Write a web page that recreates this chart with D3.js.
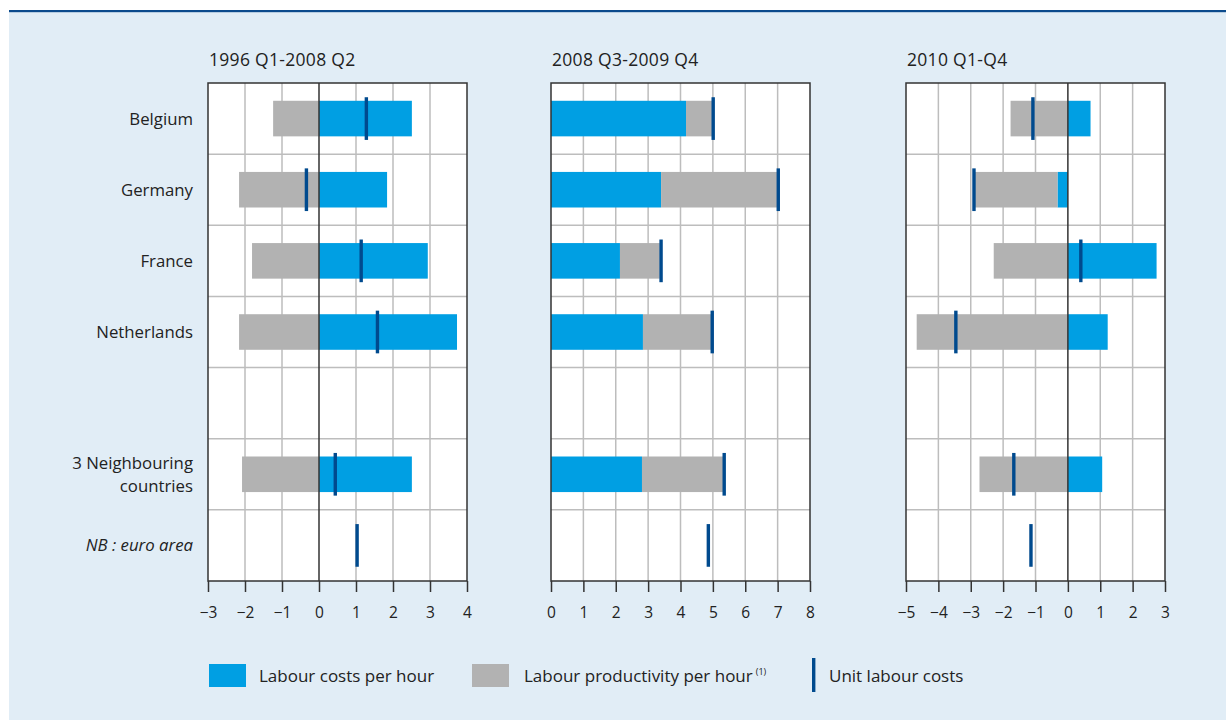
<!DOCTYPE html>
<html>
<head>
<meta charset="utf-8">
<script src="https://cdn.jsdelivr.net/npm/d3@7"></script>
<style>
  html, body { margin: 0; padding: 0; background: #ffffff; }
  svg { display: block; }
  text { font-family: "Open Sans", "Noto Sans", sans-serif; fill: #222; }
</style>
</head>
<body>
<svg id="chart" width="1226" height="720"></svg>
<script>
// ---- data ----
const categories = ["Belgium", "Germany", "France", "Netherlands", "", "3 Neighbouring countries", "NB : euro area"];
const periods = ["1996 Q1-2008 Q2", "2008 Q3-2009 Q4", "2010 Q1-Q4"];
const domains = [[-3, 4], [0, 8], [-5, 3]];

const labourCosts1  = [2.51, 1.84, 2.94, 3.73, null, 2.51, null];
const productivity1 = [-1.24, -2.16, -1.81, -2.16, null, -2.08, null];
const ulc1          = [1.28, -0.34, 1.14, 1.58, null, 0.44, 1.03];

const labourCosts2  = [4.17, 3.40, 2.13, 2.84, null, 2.81, null];
const productivity2 = [0.83, 3.59, 1.23, 2.13, null, 2.51, null];
const ulc2          = [5.01, 7.02, 3.40, 4.98, null, 5.35, 4.86];

const labourCosts3  = [0.70, -0.32, 2.74, 1.23, null, 1.06, null];
const productivity3 = [-1.77, -2.55, -2.29, -4.67, null, -2.73, null];
const ulc3          = [-1.08, -2.90, 0.40, -3.46, null, -1.67, -1.14];

const legendLabels = ["Labour costs per hour", "Labour productivity per hour", "Unit labour costs"];

const labourSeries = [labourCosts1, labourCosts2, labourCosts3];
const prodSeries = [productivity1, productivity2, productivity3];
const ulcSeries = [ulc1, ulc2, ulc3];

// ---- styles ----
const COL_BLUE = "#009fe3";
const COL_GRAY = "#b2b2b2";
const COL_ULC = "#004a8e";
const COL_GRID = "#bdbdbd";
const COL_AXIS = "#333333";

const svg = d3.select("#chart");

// background
svg.append("rect").attr("x", 9).attr("y", 11).attr("width", 1217).attr("height", 709).attr("fill", "#e1edf6");
svg.append("rect").attr("x", 9).attr("y", 10).attr("width", 1217).attr("height", 2.2).attr("fill", "#0b4a8c");

const panelX = [[208, 467], [551, 810], [906, 1165]];
const plotTop = 83, plotBottom = 581;

const y = d3.scaleBand().domain(d3.range(categories.length)).range([plotTop, plotBottom]).padding(0);
const bw = y.bandwidth();

periods.forEach((title, p) => {
  const x = d3.scaleLinear().domain(domains[p]).range(panelX[p]);
  const g = svg.append("g");

  // plot bg
  g.append("rect").attr("x", panelX[p][0]).attr("y", plotTop)
    .attr("width", panelX[p][1] - panelX[p][0]).attr("height", plotBottom - plotTop).attr("fill", "#fff");

  const ticks = d3.range(domains[p][0], domains[p][1] + 1);

  // vertical grid
  g.selectAll(".vg").data(ticks.filter(t => t !== domains[p][0] && t !== domains[p][1] && t !== 0))
    .join("line").attr("x1", d => x(d)).attr("x2", d => x(d)).attr("y1", plotTop).attr("y2", plotBottom)
    .attr("stroke", COL_GRID).attr("stroke-width", 1.5);

  // horizontal row separators
  g.selectAll(".hg").data(d3.range(1, categories.length))
    .join("line").attr("x1", panelX[p][0]).attr("x2", panelX[p][1])
    .attr("y1", d => y(d)).attr("y2", d => y(d))
    .attr("stroke", COL_GRID).attr("stroke-width", 1.5);

  // stacked diverging bars
  const table = categories.map((c, i) => ({ i, labour: labourSeries[p][i] || 0, prod: prodSeries[p][i] || 0 }));
  const stack = d3.stack().keys(["labour", "prod"]).offset(d3.stackOffsetDiverging);
  const layers = stack(table);
  const colors = { labour: COL_BLUE, prod: COL_GRAY };
  layers.forEach(layer => {
    g.selectAll(null).data(layer.filter(d => d[1] !== d[0]))
      .join("rect")
      .attr("x", d => x(Math.min(d[0], d[1])))
      .attr("width", d => Math.abs(x(d[1]) - x(d[0])))
      .attr("y", d => y(d.data.i) + bw * 0.25)
      .attr("height", bw * 0.5)
      .attr("fill", colors[layer.key]);
  });

  // zero line
  if (domains[p][0] < 0) {
    g.append("line").attr("x1", x(0)).attr("x2", x(0)).attr("y1", plotTop).attr("y2", plotBottom)
      .attr("stroke", COL_AXIS).attr("stroke-width", 1.5);
  }

  // ULC markers
  g.selectAll(".ulc").data(ulcSeries[p].map((v, i) => ({ v, i })).filter(d => d.v !== null))
    .join("rect")
    .attr("x", d => x(d.v) - 1.7).attr("width", 3.4)
    .attr("y", d => y(d.i) + bw * 0.2).attr("height", bw * 0.6)
    .attr("fill", COL_ULC);

  // border
  g.append("rect").attr("x", panelX[p][0]).attr("y", plotTop)
    .attr("width", panelX[p][1] - panelX[p][0]).attr("height", plotBottom - plotTop)
    .attr("fill", "none").attr("stroke", COL_AXIS).attr("stroke-width", 1.5);

  // axis
  const axis = d3.axisBottom(x).tickValues(ticks).tickSize(11).tickPadding(15).tickFormat(d3.format("d"));
  const ag = g.append("g").attr("transform", `translate(0,${plotBottom})`).call(axis);
  ag.select(".domain").remove();
  ag.selectAll(".tick line").attr("stroke", COL_AXIS).attr("stroke-width", 1.5);
  ag.selectAll(".tick text").attr("font-size", 15.5).attr("font-family", "Open Sans").attr("fill", "#222");

  // title
  g.append("text").attr("x", panelX[p][0] + 1).attr("y", 66).attr("font-size", 17.5)
    .attr("letter-spacing", 0.3).text(title);
});

// category labels
const labelX = 193;
categories.forEach((c, i) => {
  if (!c) return;
  const cy = y(i) + bw / 2;
  const t = svg.append("text").attr("x", labelX).attr("text-anchor", "end").attr("font-size", 16.8);
  if (c === "3 Neighbouring countries") {
    t.append("tspan").attr("x", labelX).attr("y", cy - 5).text("3 Neighbouring");
    t.append("tspan").attr("x", labelX).attr("y", cy + 18).text("countries");
  } else {
    t.attr("y", cy + 6).text(c);
    if (c.startsWith("NB")) t.attr("font-style", "italic");
  }
});

// legend
const lg = svg.append("g");
lg.append("rect").attr("x", 209).attr("y", 664).attr("width", 37).attr("height", 23).attr("fill", COL_BLUE);
lg.append("text").attr("x", 259).attr("y", 682).attr("font-size", 17).text(legendLabels[0]);
lg.append("rect").attr("x", 472).attr("y", 664).attr("width", 37).attr("height", 23).attr("fill", COL_GRAY);
const lt = lg.append("text").attr("x", 524).attr("y", 682).attr("font-size", 17).text(legendLabels[1]);
lt.append("tspan").attr("font-size", 9).attr("dy", -7).attr("dx", 3).text("(1)");
lg.append("rect").attr("x", 812).attr("y", 658).attr("width", 3.4).attr("height", 34).attr("fill", COL_ULC);
lg.append("text").attr("x", 829).attr("y", 682).attr("font-size", 17).text(legendLabels[2]);
</script>
</body>
</html>
